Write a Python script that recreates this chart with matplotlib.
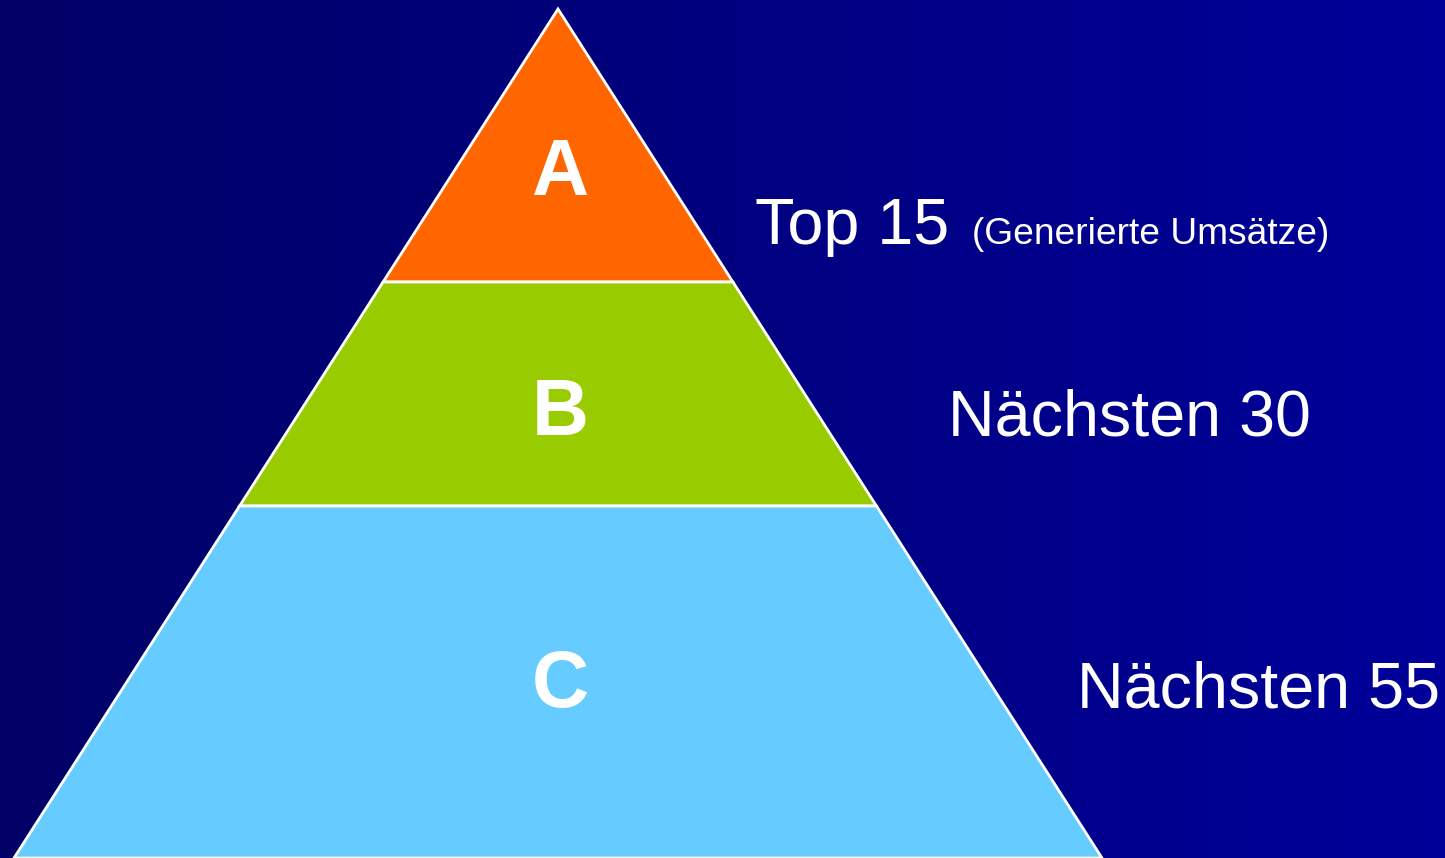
import matplotlib.pyplot as plt
import numpy as np
from matplotlib.patches import Polygon

plt.rcParams['font.family'] = ['Liberation Sans', 'DejaVu Sans']

# ABC classes, top to bottom
classes = ['A', 'B', 'C']
groups = ['Top 15', 'Nächsten 30', 'Nächsten 55']
note = '(Generierte Umsätze)'
colors = ['#FF6600', '#99CC00', '#66CCFF']

W, H = 1445, 858
fig = plt.figure(figsize=(W / 100, H / 100), dpi=100)
ax = fig.add_axes([0, 0, 1, 1])
ax.set_xlim(0, W)
ax.set_ylim(H, 0)
ax.axis('off')

# background: horizontal gradient dark navy -> blue
grad = np.linspace(0, 1, 256)
c0 = np.array([0, 0, 0x66]) / 255
c1 = np.array([0, 0, 0x99]) / 255
img = (c0[None, :] * (1 - grad[:, None]) + c1[None, :] * grad[:, None])[None, :, :]
ax.imshow(img, extent=[0, W, H, 0], aspect='auto', zorder=0)

# pyramid geometry (pixels)
apex_x, apex_y = 558, 9
base_y, base_half = 858, 544
edges = [apex_y, 282, 506, base_y]


def half_width(y):
    return base_half * (y - apex_y) / (base_y - apex_y)


for i, col in enumerate(colors):
    y0, y1 = edges[i], edges[i + 1]
    w0, w1 = half_width(y0), half_width(y1)
    pts = [(apex_x - w0, y0), (apex_x + w0, y0), (apex_x + w1, y1), (apex_x - w1, y1)]
    ax.add_patch(Polygon(pts, closed=True, facecolor=col, edgecolor='white',
                         linewidth=2, joinstyle='miter', zorder=2))

# class letters inside the layers
letter_y = [195, 435, 707]
for cls, y in zip(classes, letter_y):
    ax.text(apex_x + 2, y, cls, color='white', fontsize=57, fontweight='bold',
            ha='center', va='baseline', zorder=3)

# group labels to the right
label_x = [755, 948, 1077]
label_y = [244, 435, 707]
for g, x, y in zip(groups, label_x, label_y):
    ax.text(x, y, g, color='white', fontsize=46.5, ha='left', va='baseline', zorder=3)

ax.text(972, label_y[0], note, color='white', fontsize=26.7,
        ha='left', va='baseline', zorder=3)

fig.savefig('out.png', dpi=100)
